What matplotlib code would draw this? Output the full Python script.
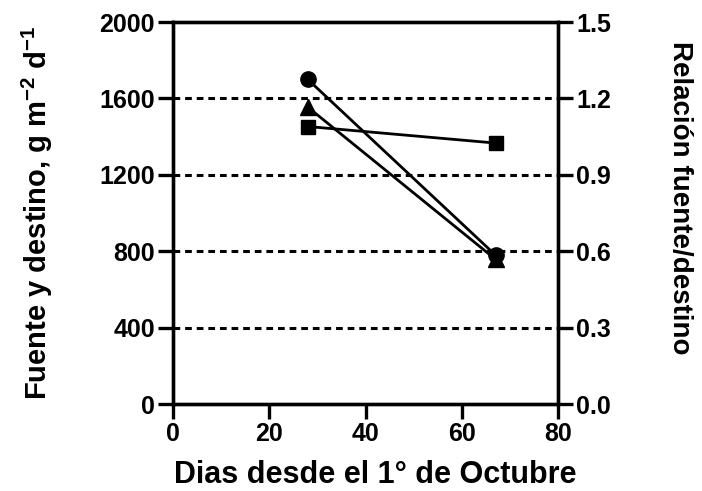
import matplotlib.pyplot as plt

# Datos
dias = [28, 67]
fuente = [1700, 780]       # circulos
destino = [1555, 758]      # triangulos
relacion = [1.09, 1.025]   # cuadrados (eje derecho)

y_ticks = [0, 400, 800, 1200, 1600, 2000]
y2_ticks = [0.0, 0.3, 0.6, 0.9, 1.2, 1.5]
x_ticks = [0, 20, 40, 60, 80]

plt.rcParams['font.family'] = ['Liberation Sans', 'DejaVu Sans']
plt.rcParams['font.weight'] = 'bold'
plt.rcParams['mathtext.fontset'] = 'custom'
plt.rcParams['mathtext.bf'] = 'Liberation Sans:bold'
plt.rcParams['mathtext.rm'] = 'Liberation Sans:bold'

fig = plt.figure(figsize=(7.02, 4.91), dpi=100)
ax = fig.add_axes([0.2464, 0.177, 0.5486, 0.778])
ax2 = ax.twinx()

for y in [400, 800, 1200, 1600]:
    ax.axhline(y, color='black', linestyle=(0, (2.2, 1.6)), linewidth=2.2, zorder=1)

ax.plot(dias, fuente, color='black', linewidth=2, marker='o', markersize=11, zorder=3)
ax.plot(dias, destino, color='black', linewidth=2, marker='^', markersize=11, zorder=3)
ax2.plot(dias, relacion, color='black', linewidth=2, marker='s', markersize=10, zorder=3)

ax.set_xlim(0, 80)
ax.set_ylim(0, 2000)
ax2.set_ylim(0, 1.5)
ax.set_xticks(x_ticks)
ax.set_yticks(y_ticks)
ax2.set_yticks(y2_ticks)
ax2.set_yticklabels([f'{v:.1f}' for v in y2_ticks])

for a in (ax, ax2):
    for s in a.spines.values():
        s.set_linewidth(2.4)
    a.tick_params(direction='out', length=11, width=2.4, labelsize=18, pad=2)

ax.set_xlabel('Dias desde el 1° de Octubre', fontsize=22, fontweight='bold', labelpad=10)
ax.xaxis.label.set_x(0.525)
ax.set_ylabel('Fuente y destino, g m$^{-2}$ d$^{-1}$', fontsize=21, fontweight='bold', labelpad=32)
ax2.set_ylabel('Relación fuente/destino', fontsize=20, fontweight='bold', rotation=270, labelpad=59)
ax2.yaxis.label.set_y(0.539)

fig.savefig('out.png', dpi=100)
